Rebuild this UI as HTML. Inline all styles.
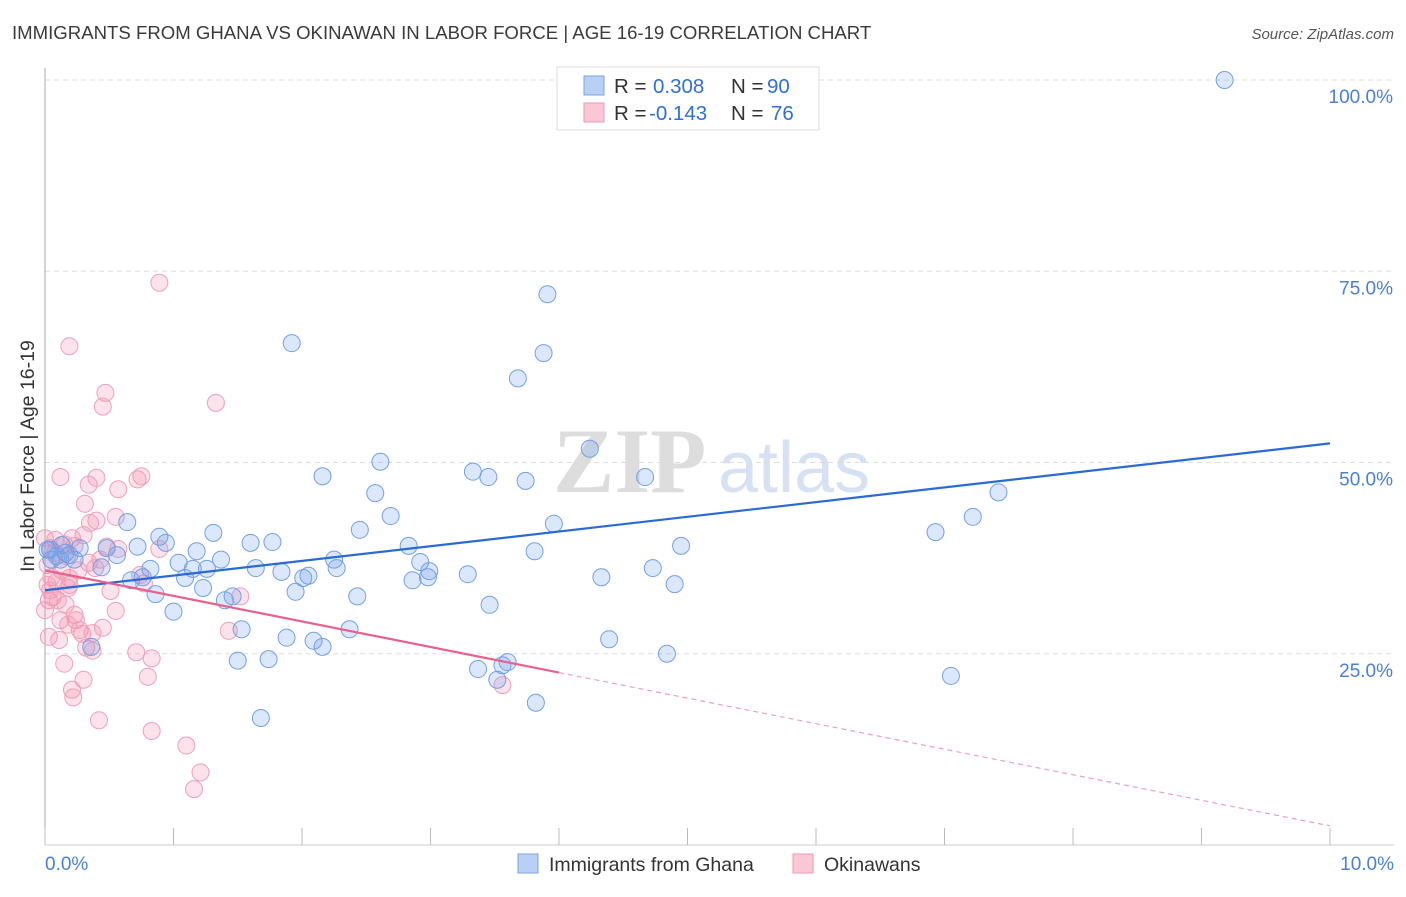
<!DOCTYPE html>
<html><head><meta charset="utf-8"><style>
body{margin:0;background:#fff;font-family:"Liberation Sans",sans-serif}
</style></head><body>
<svg id="c" width="1406" height="892" xmlns="http://www.w3.org/2000/svg">
<text x="12" y="39" font-size="18.6" fill="#3a3a3a">IMMIGRANTS FROM GHANA VS OKINAWAN IN LABOR FORCE | AGE 16-19 CORRELATION CHART</text>
<text x="1394" y="39" font-size="15" fill="#555" text-anchor="end" font-style="italic">Source: ZipAtlas.com</text>
<g><text x="553" y="492" font-size="92" font-family="Liberation Serif,serif" fill="#ddd" font-weight="bold">ZIP</text><text x="718" y="492" font-size="72" fill="#d6e2f3">atlas</text></g>
<g id="grid"></g><g id="axes"></g><g id="pts"></g><g id="trend"></g>
<text transform="translate(34,456) rotate(-90)" font-size="19.5" fill="#333" text-anchor="middle">In Labor Force | Age 16-19</text>
<g>
<rect x="557" y="67" width="262" height="63" fill="#fff" stroke="#ddd"/>
<rect x="584" y="76" width="20" height="19" fill="#b9d0f5" stroke="#7aa3e6"/>
<rect x="584" y="103" width="20" height="19" fill="#f9c7d6" stroke="#ee98b3"/>
<text x="614" y="93" font-size="20.5" fill="#333">R = <tspan x="653" fill="#2f6fd6">0.308</tspan><tspan x="731">N = </tspan><tspan x="767" fill="#2f6fd6">90</tspan></text>
<text x="614" y="120" font-size="20.5" fill="#333">R = <tspan x="649" fill="#2f6fd6">-0.143</tspan><tspan x="731">N = </tspan><tspan x="771" fill="#2f6fd6">76</tspan></text>
</g>
<g>
<rect x="518" y="854" width="20" height="19" fill="#b9d0f5" stroke="#7aa3e6"/>
<text x="549" y="871" font-size="19.5" fill="#333">Immigrants from Ghana</text>
<rect x="793" y="854" width="20" height="19" fill="#f9c7d6" stroke="#ee98b3"/>
<text x="824" y="871" font-size="19.5" fill="#333">Okinawans</text>
</g>
</svg>
<script>
const yTicks=[25,50,75,100];
const yTickLabels=["25.0%","50.0%","75.0%","100.0%"];
const xTickLabels=["0.0%","10.0%"];
const blueX=[9.18,3.91,3.88,1.92,3.68,4.24,2.61,3.33,3.45,2.16,4.67,3.74,2.57,7.42,2.69,7.22,0.64,2.45,3.96,6.93,1.31,0.89,0.94,1.60,1.77,4.95,3.81,2.83,1.18,0.72,0.48,0.56,0.04,0.09,0.12,0.16,1.37,2.25,2.92,1.04,1.64,2.27,0.44,0.82,1.15,1.26,4.73,1.84,2.05,2.01,2.99,3.29,2.86,2.98,0.67,1.09,4.33,0.76,4.90,1.23,1.95,0.86,1.46,2.43,1.40,3.46,1.00,2.37,1.53,4.39,1.88,2.09,2.16,0.36,4.84,1.50,1.74,3.37,3.60,3.56,7.05,3.52,3.82,1.68,0.02,0.05,0.19,0.27,0.13,0.23];
const blueY=[100,72.0,64.3,65.6,61.0,51.8,50.1,48.8,48.1,48.2,48.1,47.6,46.0,46.1,43.0,42.9,42.2,41.2,42.0,40.9,40.8,40.3,39.5,39.5,39.6,39.1,38.4,39.1,38.4,39.0,38.8,37.9,38.6,37.8,37.3,38.2,37.3,37.3,37.0,36.9,36.2,36.2,36.3,36.1,36.1,36.1,36.2,35.7,35.2,34.9,35.8,35.4,34.6,35.0,34.6,34.9,35.0,35.0,34.1,33.6,33.1,32.8,32.5,32.5,32.0,31.4,30.5,28.2,28.2,26.9,27.1,26.7,25.9,25.9,25.0,24.1,24.3,23.0,23.9,23.5,22.1,21.6,18.6,16.6,38.6,37.3,37.9,38.8,39.2,37.3];
const pinkX=[0.89,0.19,0.47,0.45,1.33,0.12,0.40,0.72,0.75,0.34,0.57,0.31,0.55,0.40,0.35,0.15,0.21,0.30,0.48,0.89,0.57,0.23,0.04,0.08,0.17,0.34,0.02,0.13,0.19,0.05,0.09,0.02,0.18,0.51,0.06,0.03,0.77,1.52,0.55,0.23,0.24,0.27,0.29,0.45,1.43,0.03,0.37,0.11,0.32,0.37,0.71,0.83,0.15,0.80,0.30,0.21,0.22,3.56,0.42,0.83,1.10,1.21,1.16,0,0.16,0.04,0.10,0.26,0.39,0.19,0.43,0.08,0.0,0.12,0.18,0.74];
const pinkY=[73.5,65.2,59.1,57.3,57.8,48.1,48.0,47.8,48.2,47.1,46.5,44.6,42.9,42.4,42.1,39.3,40.1,40.5,39.0,38.7,38.7,39.1,38.8,38.2,37.8,36.9,36.6,35.9,34.9,35.0,34.4,34.0,33.6,33.2,32.4,32.0,34.2,32.5,30.6,30.1,29.4,28.1,27.6,28.4,28.0,27.2,27.7,26.8,25.8,25.4,25.2,24.4,23.7,22.0,21.6,20.3,19.3,20.9,16.3,14.9,13.0,9.5,7.3,30.7,31.4,33.3,32.0,35.9,36.2,34.0,37.3,39.9,40.1,29.4,28.8,35.3];
const blueTrend=[33.3,52.5];
const pinkTrend=[35.9,2.5];
const pinkSolidEnd=4.0;
const NS="http://www.w3.org/2000/svg";
const X=v=>45+v*128.5, Y=v=>845-v*7.65;
function mk(p,t,a){const e=document.createElementNS(NS,t);for(const k in a)e.setAttribute(k,a[k]);p.appendChild(e);return e;}
const grid=document.getElementById('grid'),axes=document.getElementById('axes'),pts=document.getElementById('pts'),tr=document.getElementById('trend');
yTicks.forEach((t,i)=>{
 const l=mk(grid,'line',{x1:45,x2:1394,y1:Y(t),y2:Y(t),stroke:'#ddd','stroke-dasharray':'5,4'});
 
 
 const tx=mk(grid,'text',{x:1393,y:Y(t)+23,'font-size':19,fill:'#4a7fd6','text-anchor':'end'});
 tx.textContent=yTickLabels[i];
 
 
});
const ya=mk(axes,'line',{x1:45,x2:45,y1:68,y2:845,stroke:'#aaa'});


const xa=mk(axes,'line',{x1:45,x2:1394,y1:845,y2:845,stroke:'#ccc'});


for(let i=0;i<=10;i++){
 const t=mk(axes,'line',{x1:X(i),x2:X(i),y1:828,y2:845,stroke:'#bbb'});
 
 
}
[[0,'start',45],[10,'end',1394]].forEach((d,i)=>{
 const tx=mk(axes,'text',{x:d[2],y:870,'font-size':19,fill:'#4a7fd6','text-anchor':d[1]});
 tx.textContent=xTickLabels[i];
 
 
});
pinkX.forEach((x,i)=>{
 const c=mk(pts,'circle',{cx:X(x),cy:Y(pinkY[i]),r:8.5,fill:'rgba(243,140,170,0.25)',stroke:'#efa0b9','stroke-width':1});
 
 
});
blueX.forEach((x,i)=>{
 const c=mk(pts,'circle',{cx:X(x),cy:Y(blueY[i]),r:8.5,fill:'rgba(110,160,235,0.25)',stroke:'#73a0e4','stroke-width':1});
 
 
});
const bl=mk(tr,'line',{x1:X(0),y1:Y(blueTrend[0]),x2:X(10),y2:Y(blueTrend[1]),stroke:'#2a6ad6','stroke-width':2.2});


const pv=x=>pinkTrend[0]+(pinkTrend[1]-pinkTrend[0])*x/10;
const pl=mk(tr,'line',{x1:X(0),y1:Y(pv(0)),x2:X(pinkSolidEnd),y2:Y(pv(pinkSolidEnd)),stroke:'#e8618c','stroke-width':2.2});


const pd=mk(tr,'line',{x1:X(pinkSolidEnd),y1:Y(pv(pinkSolidEnd)),x2:X(10),y2:Y(pv(10)),stroke:'#eea0b8','stroke-width':1.2,'stroke-dasharray':'5,4'});


</script>
</body></html>
